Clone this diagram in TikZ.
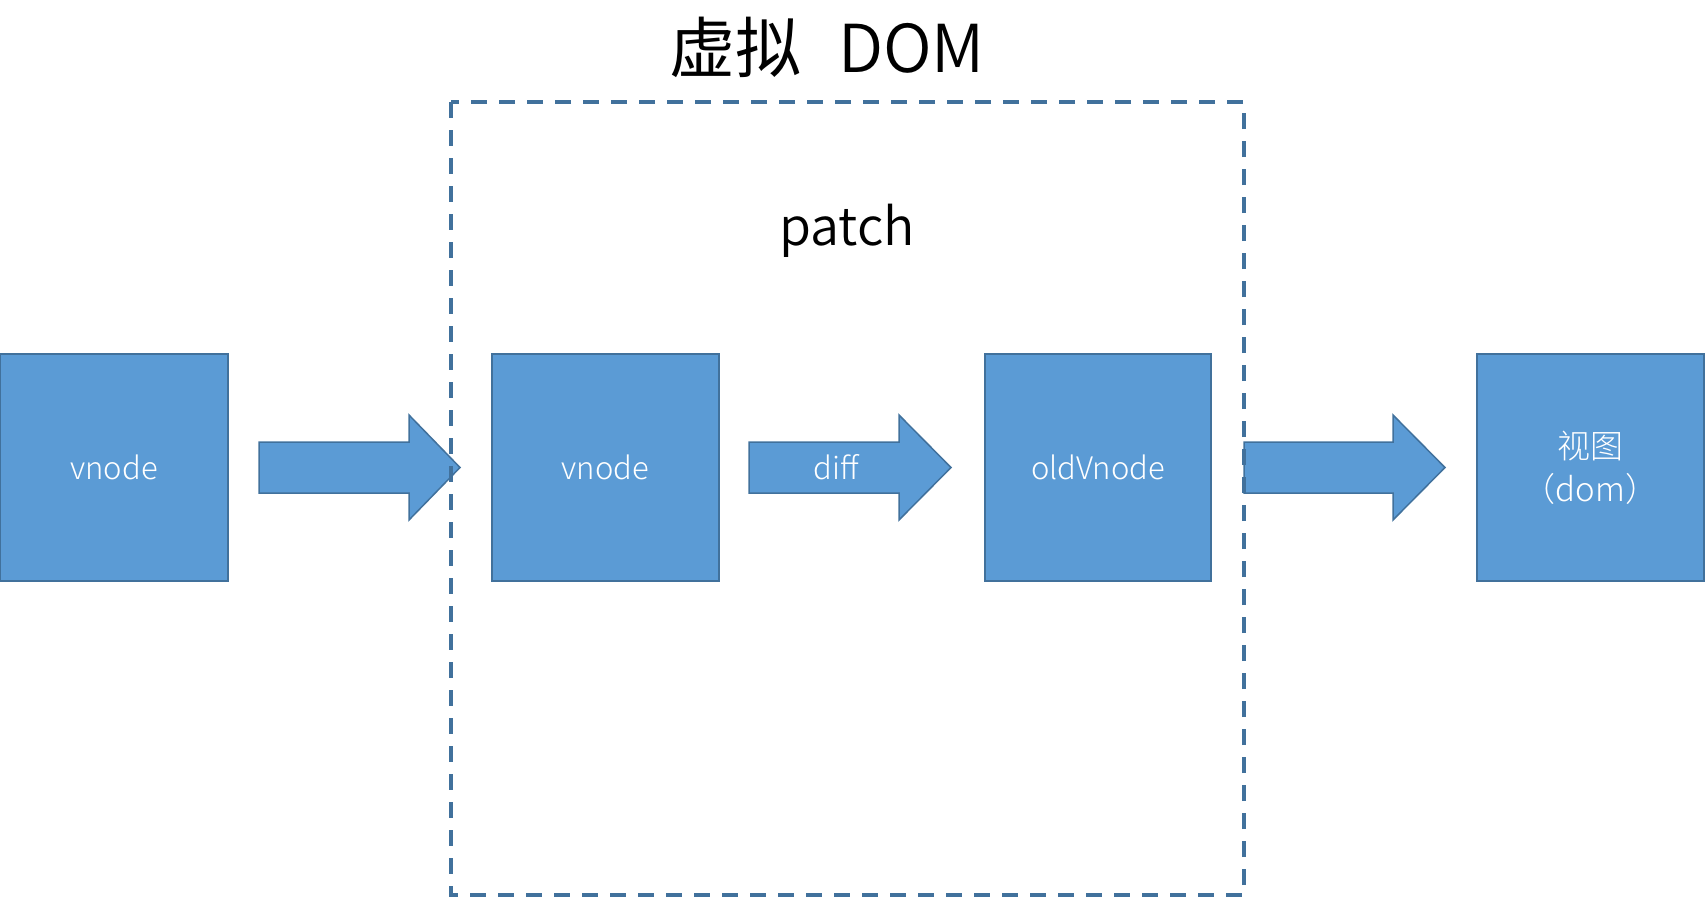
\documentclass[tikz,border=0pt]{standalone}
\usepackage{fontspec}
\setmainfont{Noto Sans CJK SC}
\newfontfamily\lightfont{Noto Sans CJK SC Light}
\newfontfamily\demifont{Noto Sans CJK SC DemiLight}
\definecolor{boxfill}{HTML}{5B9BD5}
\definecolor{boxline}{HTML}{41719C}
\newcommand{\blockarr}[3]{%
  \draw[blockarrow] (#1,442) -- (#2,442) -- (#2,415) -- (#3,467.5) -- (#2,520) -- (#2,493) -- (#1,493) -- cycle;}
\begin{document}
\begin{tikzpicture}[x=1pt,y=-1pt,
  box/.style={draw=boxline, fill=boxfill, line width=1.8pt, minimum height=227pt,
    inner sep=0pt, text=white, align=center, font=\lightfont\fontsize{31pt}{43pt}\selectfont},
  blockarrow/.style={draw=boxline, fill=boxfill, line width=1.5pt, line join=miter},
  frame/.style={draw=boxline, line width=3.5pt, dash pattern=on 16pt off 12pt},
  lbl/.style={text=white, inner sep=0pt, font=\lightfont\fontsize{31pt}{38pt}\selectfont},
  heading/.style={text=black, inner sep=0pt}]
\useasboundingbox (0,0) rectangle (1706,898);
% boxes
\node[box, minimum width=228pt] (b1) at (114,467.5) {vnode};
\node[box, minimum width=227pt] (b2) at (605.5,467.5) {vnode};
\node[box, minimum width=226pt] (b3) at (1098,467.5) {oldVnode};
\node[box, minimum width=227pt, font=\lightfont\fontsize{33pt}{43pt}\selectfont] (b4) at (1590.5,467.5) {视图\\（dom）};
% block arrows
\blockarr{259}{409}{460}
\blockarr{749}{899}{951}
\blockarr{1244}{1393}{1445}
\node[lbl] (diff) at (836.5,467.5) {diff};
% titles
\node[heading, anchor=base west, font=\fontsize{66pt}{70pt}\selectfont] (title) at (669,72) {虚拟\hspace{37pt}{\demifont DOM}};
\node[heading, anchor=base, font=\demifont\fontsize{52pt}{60pt}\selectfont] (patch) at (847,245) {patch};
% dashed frame
\draw[frame] (451,102) rectangle (1244,895);
\end{tikzpicture}
\end{document}
